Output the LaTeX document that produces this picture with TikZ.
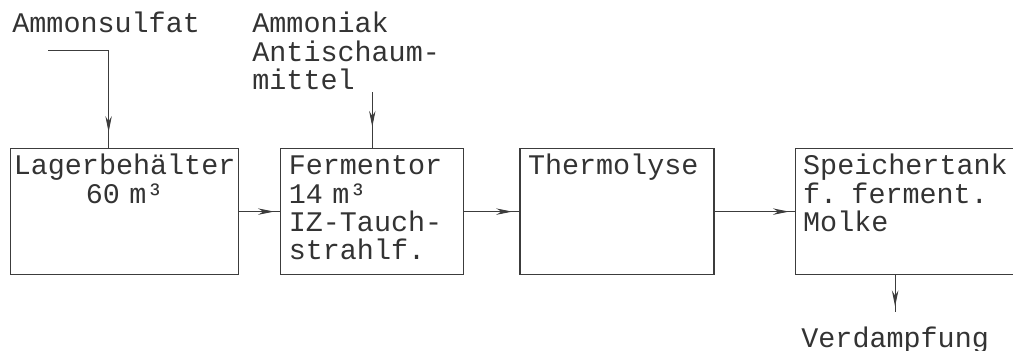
\documentclass[tikz,border=0pt]{standalone}
\usepackage{fontspec}
\setmonofont{Liberation Mono}
\usepackage{tikz}
\usetikzlibrary{positioning,arrows.meta,decorations.markings}
\definecolor{flInk}{HTML}{3C3C3C}
\definecolor{flText}{HTML}{333333}
\newcommand{\twfont}{\ttfamily\fontsize{14.2}{14.2}\selectfont}
\tikzset{
  fl-box/.style={
    draw=flInk, line width=0.6pt, font=\twfont, text=flText,
    align=left, inner xsep=4pt, inner ysep=2pt,
    text height=11pt, text depth=48pt
  },
  fl-flow/.style={
    draw=flInk, line width=0.5pt,
    decoration={markings,
      mark=at position #1 with {\arrow[flInk]{Stealth[length=8pt,width=3.2pt]}}},
    postaction={decorate}
  },
  fl-flow/.default=0.85,
  fl-label/.style={font=\twfont, text=flText, inner sep=0pt, align=left,
    anchor=base west}
}

\begin{document}
\begin{tikzpicture}[x=0.5pt, y=-0.5pt, node distance=20pt]
\useasboundingbox (0,0) rectangle (1013,350);

% Zufuhr
\node[fl-label] (ammonsulfat) at (12,32) {Ammonsulfat};
\node[fl-label, anchor=north west, inner ysep=1pt] (ammoniak) at (252,10)
  {Ammoniak\\Antischaum-\\mittel};
\coordinate (asin) at (48,50);

% Anlage
\node[fl-box, anchor=north west, align=center, inner xsep=1pt,
  text width=112pt] (lager) at (10,148) {Lagerbehälter\\60 m³};
\node[fl-box, right=20.5pt of lager, text width=83.5pt] (ferm)
  {Fermentor\\14 m³\\IZ-Tauch-\\strahlf.};
\node[fl-box, right=27.5pt of ferm, text width=89pt] (therm) {Thermolyse};
\node[fl-box, right=40pt of therm, text width=102.5pt] (speicher)
  {Speichertank\\f. ferment.\\Molke};

\node[fl-label, inner ysep=7pt] (verd) at (801,347) {Verdampfung};

\draw[fl-flow=0.9] (asin) -| ([xshift=-8pt]lager.north);
\draw[fl-flow=0.62] (ammoniak.south -| ferm.north) -- (ferm.north);
\draw[fl-flow=0.85] (lager) -- (ferm);
\draw[fl-flow=0.87] (ferm) -- (therm);
\draw[fl-flow=0.93] (therm) -- (speicher);
\draw[fl-flow=0.85] (verd.north |- speicher.south) -- (verd.north);
\end{tikzpicture}
\end{document}
